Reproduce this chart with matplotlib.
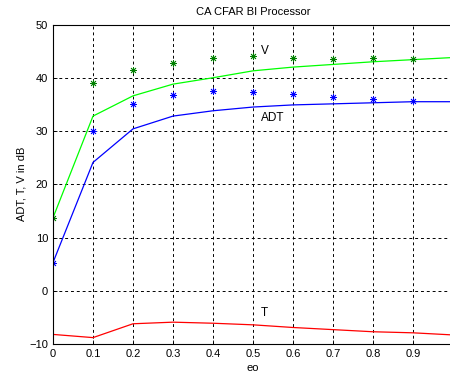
import matplotlib
matplotlib.use('Agg')
import matplotlib.pyplot as plt

matplotlib.rcParams['font.family'] = ['Liberation Sans', 'DejaVu Sans']

eo = [0.0, 0.1, 0.2, 0.3, 0.4, 0.5, 0.6, 0.7, 0.8, 0.9, 1.0]
v_line = [13.7, 32.8, 36.6, 38.8, 40.0, 41.3, 42.0, 42.5, 43.0, 43.4, 43.8]
adt_line = [5.3, 24.1, 30.4, 32.8, 33.8, 34.5, 34.9, 35.1, 35.3, 35.5, 35.5]
t_line = [-8.2, -8.8, -6.2, -5.9, -6.1, -6.4, -6.9, -7.3, -7.7, -7.9, -8.3]

eo_pts = [0.0, 0.1, 0.2, 0.3, 0.4, 0.5, 0.6, 0.7, 0.8, 0.9]
v_pts = [13.7, 39.0, 41.4, 42.8, 43.7, 44.1, 43.7, 43.5, 43.7, 43.5]
adt_pts = [5.3, 30.0, 35.1, 36.8, 37.6, 37.4, 36.9, 36.3, 36.0, 35.6]

fig = plt.figure(figsize=(4.5, 3.79), dpi=100)
ax = fig.add_axes([53/450, 35/379, 400/450, 319.5/379])

ax.plot(eo, v_line, color='#00ff00', lw=0.9)
ax.plot(eo, adt_line, color='#0000ff', lw=0.9)
ax.plot(eo, t_line, color='#ff0000', lw=0.9)
ax.plot(eo_pts, v_pts, ls='none', marker=(8, 2, 0), ms=5, mew=0.6, color='#008000')
ax.plot(eo_pts, adt_pts, ls='none', marker=(8, 2, 0), ms=5, mew=0.6, color='#0000ff')

ax.text(0.52, 45.0, 'V', fontsize=8.5, va='center')
ax.text(0.52, 32.5, 'ADT', fontsize=8.5, va='center')
ax.text(0.52, -4.1, 'T', fontsize=8.5, va='center')

ax.set_xlim(0, 1)
ax.set_ylim(-10, 50)
ax.set_xticks(eo_pts)
ax.set_xticklabels(['0', '0.1', '0.2', '0.3', '0.4', '0.5', '0.6', '0.7', '0.8', '0.9'])
ax.set_yticks(range(-10, 51, 10))
ax.tick_params(direction='in', labelsize=8, length=3, width=0.6)
ax.grid(True, color='black', ls=(0, (3, 3)), lw=0.7)
ax.spines['right'].set_visible(False)
for s in ['left', 'bottom', 'top']:
    ax.spines[s].set_linewidth(0.8)

ax.set_title('CA CFAR BI Processor', fontsize=8, pad=7)
ax.set_xlabel('eo', fontsize=8, labelpad=3)
ax.set_ylabel('ADT, T, V in dB', fontsize=8, labelpad=2)

plt.savefig('out.png', dpi=100)
